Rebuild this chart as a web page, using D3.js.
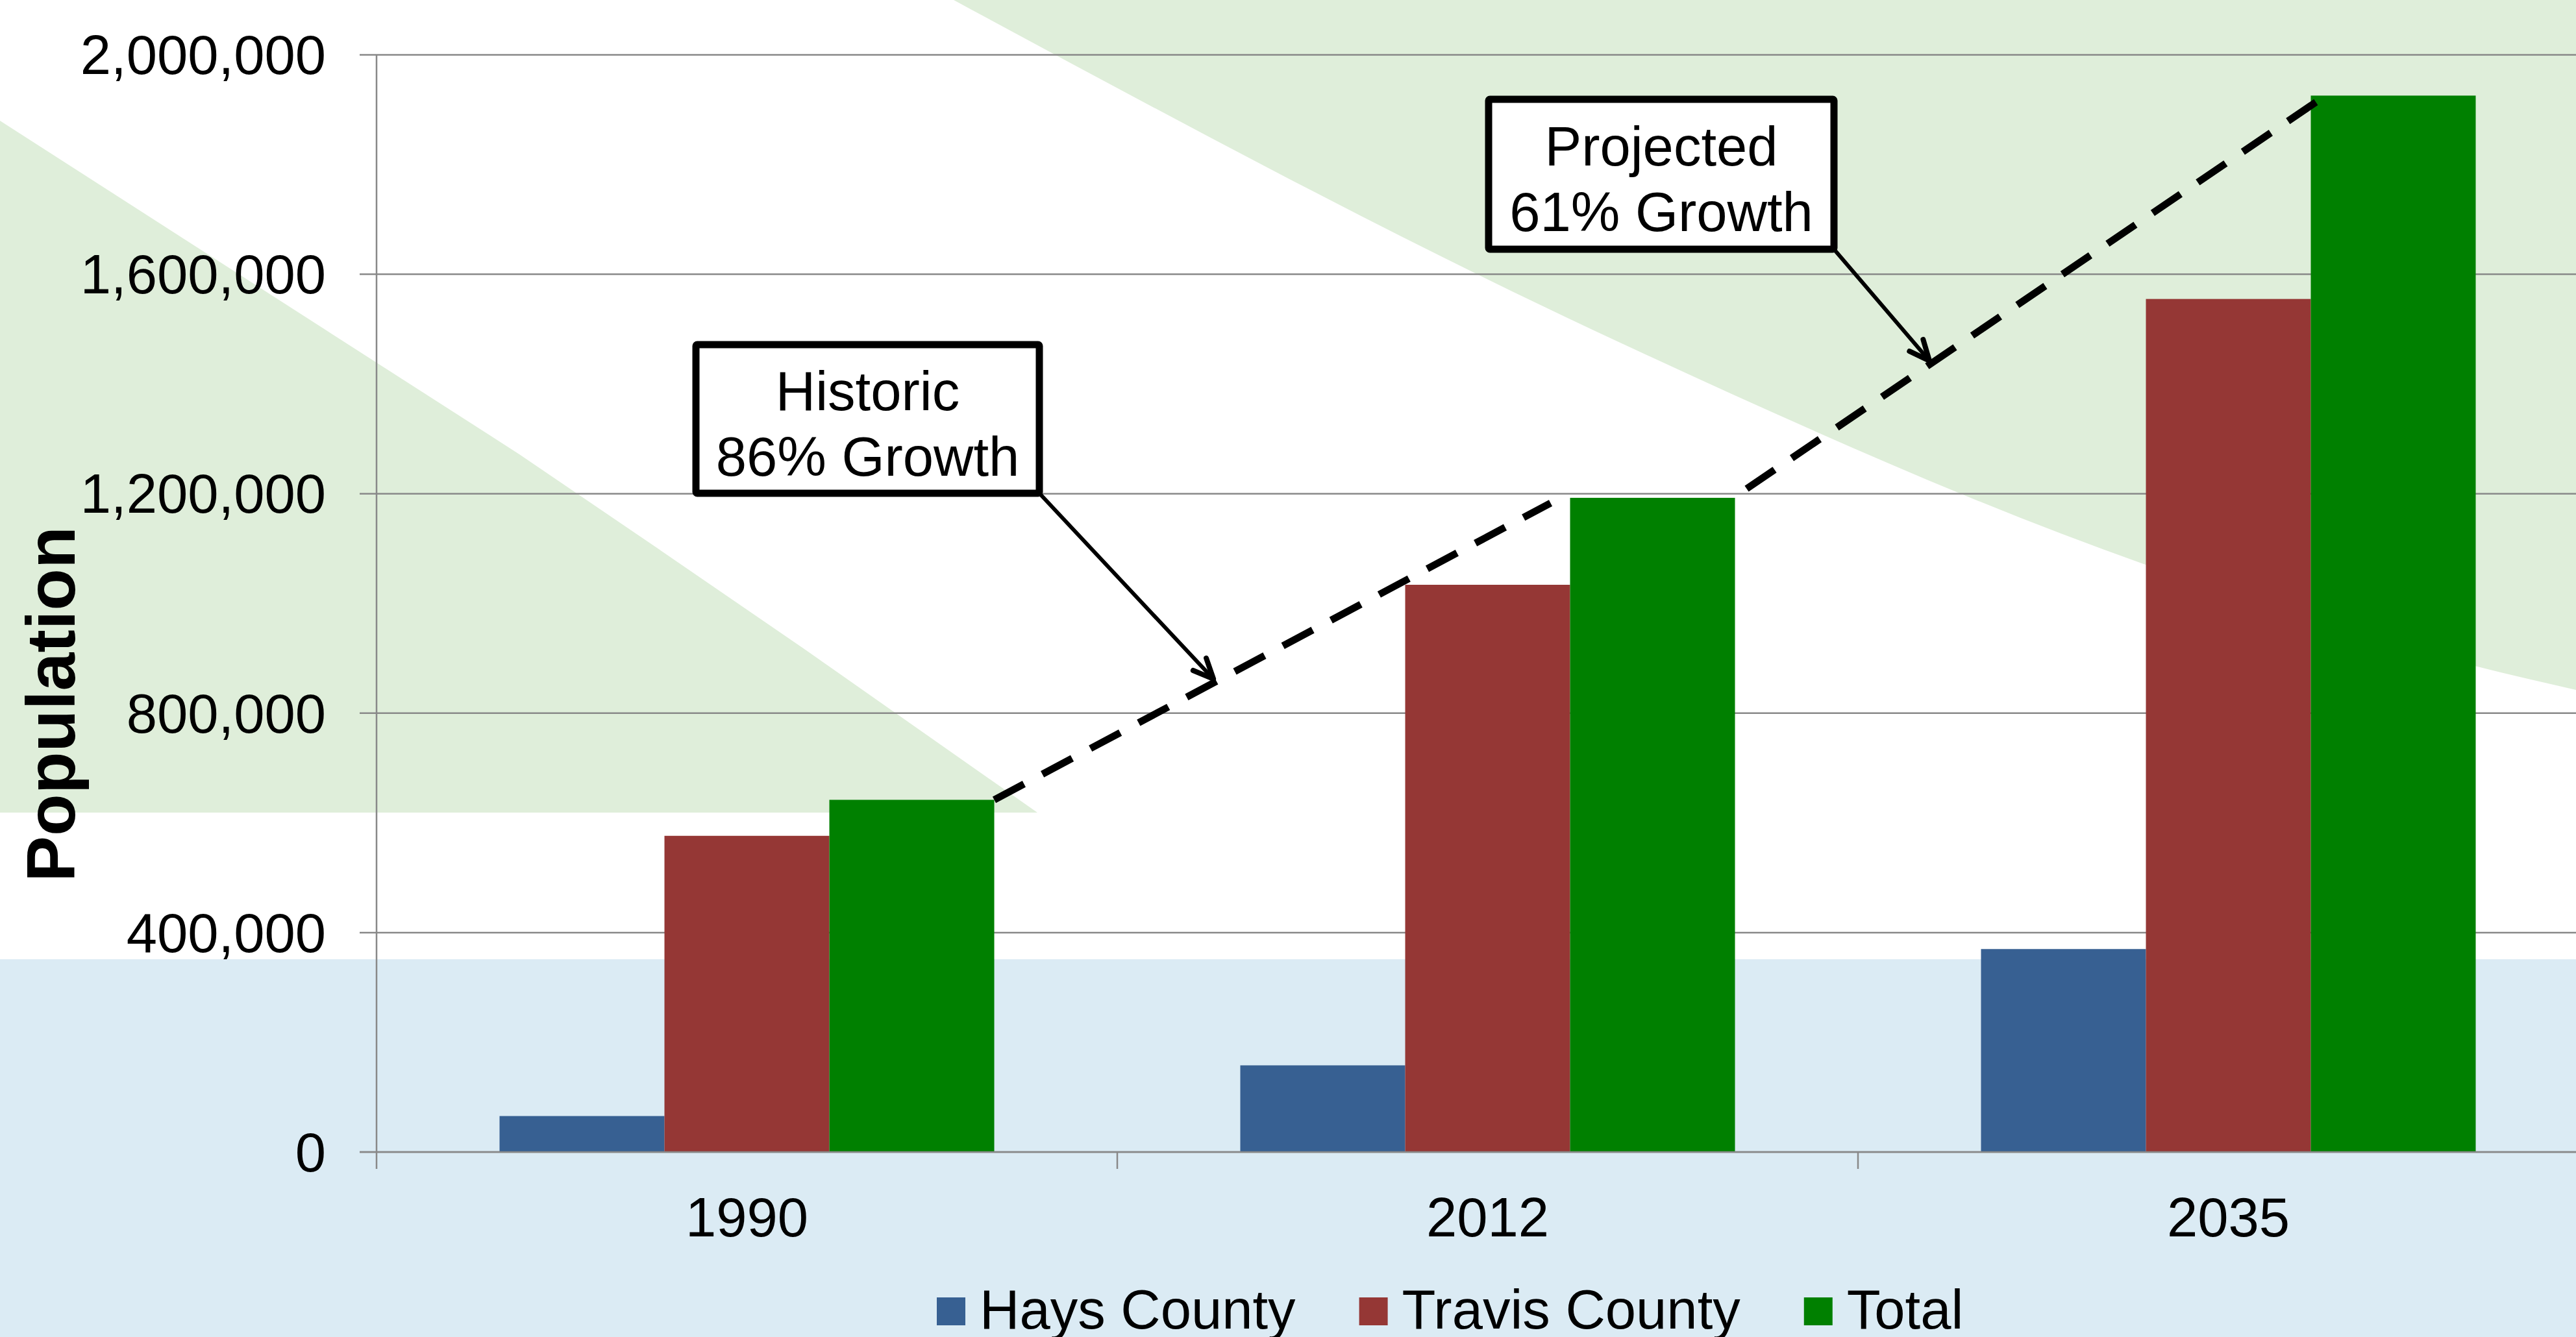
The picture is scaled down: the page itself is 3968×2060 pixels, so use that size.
<!DOCTYPE html>
<html>
<head>
<meta charset="utf-8">
<script src="https://cdn.jsdelivr.net/npm/d3@7"></script>
<style>
  html, body { margin: 0; padding: 0; background: #ffffff; }
  svg { display: block; }
  text { font-family: "Liberation Sans", Arial, sans-serif; }
</style>
</head>
<body>
<svg id="chart" width="3968" height="2060"></svg>
<script>
// ---- data ----
const categories = ["1990", "2012", "2035"];
const seriesNames = ["Hays County", "Travis County", "Total"];
const haysValues = [65600, 158000, 370000];
const travisValues = [576400, 1034000, 1555000];
const totalValues = [642000, 1192500, 1925700];
const yTicks = [0, 400000, 800000, 1200000, 1600000, 2000000];
const annotations = [
  { lines: ["Historic", "86% Growth"], from: 0 },
  { lines: ["Projected", "61% Growth"], from: 1 }
];

// ---- styles / layout ----
const W = 3968, H = 2060;
const colors = { "Hays County": "#376092", "Travis County": "#953735", "Total": "#008000" };
const plotLeft = 580, bandW = 1141, plotTop = 84.5, plotBottom = 1775;
const fontSize = 85;

const svg = d3.select("#chart");
svg.append("rect").attr("width", W).attr("height", H).attr("fill", "#ffffff");

// decorative background
const bg = svg.append("g");
bg.append("rect").attr("x", 0).attr("y", 1478).attr("width", W).attr("height", H - 1478).attr("fill", "#DBEBF4");
const line = d3.line();
bg.append("path").attr("fill", "#DFEEDA")
  .attr("d", line([[0, 186], [800, 700], [1000, 836], [1239, 1000], [1598, 1252], [0, 1252]]) + "Z");
bg.append("path").attr("fill", "#DFEEDA")
  .attr("d", d3.line().curve(d3.curveMonotoneX)([[1469, 0], [2500, 530], [3305, 870], [3812, 1026], [3968, 1063]]) + "L3968,0Z");

// scales
const x0 = d3.scaleBand().domain(categories).range([plotLeft, plotLeft + bandW * categories.length]).padding(0);
const x1 = d3.scaleBand().domain(seriesNames).range([0, x0.bandwidth()]).paddingInner(0).paddingOuter(0.746);
const y = d3.scaleLinear().domain([0, 2000000]).range([plotBottom, plotTop]);

// gridlines
const grid = svg.append("g");
grid.selectAll("line").data(yTicks).join("line")
  .attr("x1", plotLeft - 26).attr("x2", W)
  .attr("y1", d => y(d)).attr("y2", d => y(d))
  .attr("stroke", "#898989").attr("stroke-width", 2.5);

// y labels
svg.append("g").selectAll("text").data(yTicks).join("text")
  .attr("x", 502).attr("y", d => y(d)).attr("dy", "0.35em")
  .attr("text-anchor", "end").attr("font-size", fontSize).attr("fill", "#000")
  .text(d => d3.format(",")(d));

// y axis line
svg.append("line").attr("x1", plotLeft).attr("x2", plotLeft)
  .attr("y1", plotTop).attr("y2", plotBottom + 26)
  .attr("stroke", "#898989").attr("stroke-width", 2.5);

// category ticks
const boundaries = categories.slice(1).map(c => x0(c));
svg.append("g").selectAll("line").data(boundaries).join("line")
  .attr("x1", d => d).attr("x2", d => d)
  .attr("y1", plotBottom).attr("y2", plotBottom + 26)
  .attr("stroke", "#898989").attr("stroke-width", 2.5);

// bars
const table = categories.map((c, i) => ({
  cat: c,
  vals: [
    { key: "Hays County", v: haysValues[i] },
    { key: "Travis County", v: travisValues[i] },
    { key: "Total", v: totalValues[i] }
  ]
}));
const groups = svg.append("g").selectAll("g").data(table).join("g")
  .attr("transform", d => `translate(${x0(d.cat)},0)`);
groups.selectAll("rect").data(d => d.vals).join("rect")
  .attr("x", d => x1(d.key)).attr("width", x1.bandwidth())
  .attr("y", d => y(d.v)).attr("height", d => y(0) - y(d.v))
  .attr("fill", d => colors[d.key]);

// redraw baseline over bars
svg.append("line").attr("x1", plotLeft - 26).attr("x2", W)
  .attr("y1", y(0)).attr("y2", y(0))
  .attr("stroke", "#898989").attr("stroke-width", 2.5);

// category labels
svg.append("g").selectAll("text").data(categories).join("text")
  .attr("x", d => x0(d) + x0.bandwidth() / 2).attr("y", 1905)
  .attr("text-anchor", "middle").attr("font-size", fontSize).attr("fill", "#000")
  .text(d => d);

// y title
svg.append("text")
  .attr("transform", "translate(115,1085) rotate(-90)")
  .attr("text-anchor", "middle").attr("font-size", 106).attr("font-weight", "bold").attr("fill", "#000")
  .text("Population");

// dashed growth lines
const bw = x1.bandwidth();
const segs = [];
for (let i = 0; i < categories.length - 1; i++) {
  const a = [x0(categories[i]) + x1("Total") + bw + (i === 0 ? 0 : 18), y(totalValues[i]) - (i === 0 ? 0 : 14)];
  const b = [x0(categories[i + 1]) + x1("Total") - (i === 0 ? 30 : -8), y(totalValues[i + 1]) + (i === 0 ? 8 : 10)];
  segs.push([a, b]);
}
svg.append("g").selectAll("path").data(segs).join("path")
  .attr("d", d => line(d))
  .attr("stroke", "#000").attr("stroke-width", 11).attr("fill", "none")
  .attr("stroke-dasharray", "52,32");

// annotation boxes
const boxes = [
  { x: 1072, y: 531, w: 529, h: 229, t: 0.394 },
  { x: 2293, y: 153, w: 532, h: 231, t: 0.321 }
];
annotations.forEach((a, k) => {
  const bx = boxes[k];
  const s = segs[a.from];
  const tip = [s[0][0] + (s[1][0] - s[0][0]) * bx.t, s[0][1] + (s[1][1] - s[0][1]) * bx.t - 6];
  const start = [bx.x + bx.w, bx.y + bx.h];
  const g = svg.append("g");
  g.append("path").attr("d", line([start, tip]))
    .attr("stroke", "#000").attr("stroke-width", 6).attr("fill", "none").attr("stroke-linecap", "round");
  const ang = Math.atan2(tip[1] - start[1], tip[0] - start[0]);
  const L = 34, spread = 0.42;
  const p1 = [tip[0] - L * Math.cos(ang - spread), tip[1] - L * Math.sin(ang - spread)];
  const p2 = [tip[0] - L * Math.cos(ang + spread), tip[1] - L * Math.sin(ang + spread)];
  g.append("path").attr("d", line([p1, tip, p2]))
    .attr("stroke", "#000").attr("stroke-width", 8).attr("fill", "none")
    .attr("stroke-linecap", "round").attr("stroke-linejoin", "round");
  g.append("rect").attr("x", bx.x).attr("y", bx.y).attr("width", bx.w).attr("height", bx.h)
    .attr("fill", "#ffffff").attr("stroke", "#000").attr("stroke-width", 11).attr("rx", 2);
  const cy = bx.y + bx.h / 2;
  a.lines.forEach((ln, j) => {
    g.append("text").attr("x", bx.x + bx.w / 2).attr("y", cy - 14 + j * 101)
      .attr("text-anchor", "middle").attr("font-size", fontSize).attr("fill", "#000").text(ln);
  });
});

// legend
const legend = svg.append("g");
let lx = 1443;
seriesNames.forEach(n => {
  legend.append("rect").attr("x", lx).attr("y", 1999).attr("width", 44).attr("height", 43).attr("fill", colors[n]);
  const t = legend.append("text").attr("x", lx + 66).attr("y", 2047)
    .attr("font-size", fontSize).attr("fill", "#000").text(n);
  lx += 66 + t.node().getComputedTextLength() + 98;
});
</script>
</body>
</html>
